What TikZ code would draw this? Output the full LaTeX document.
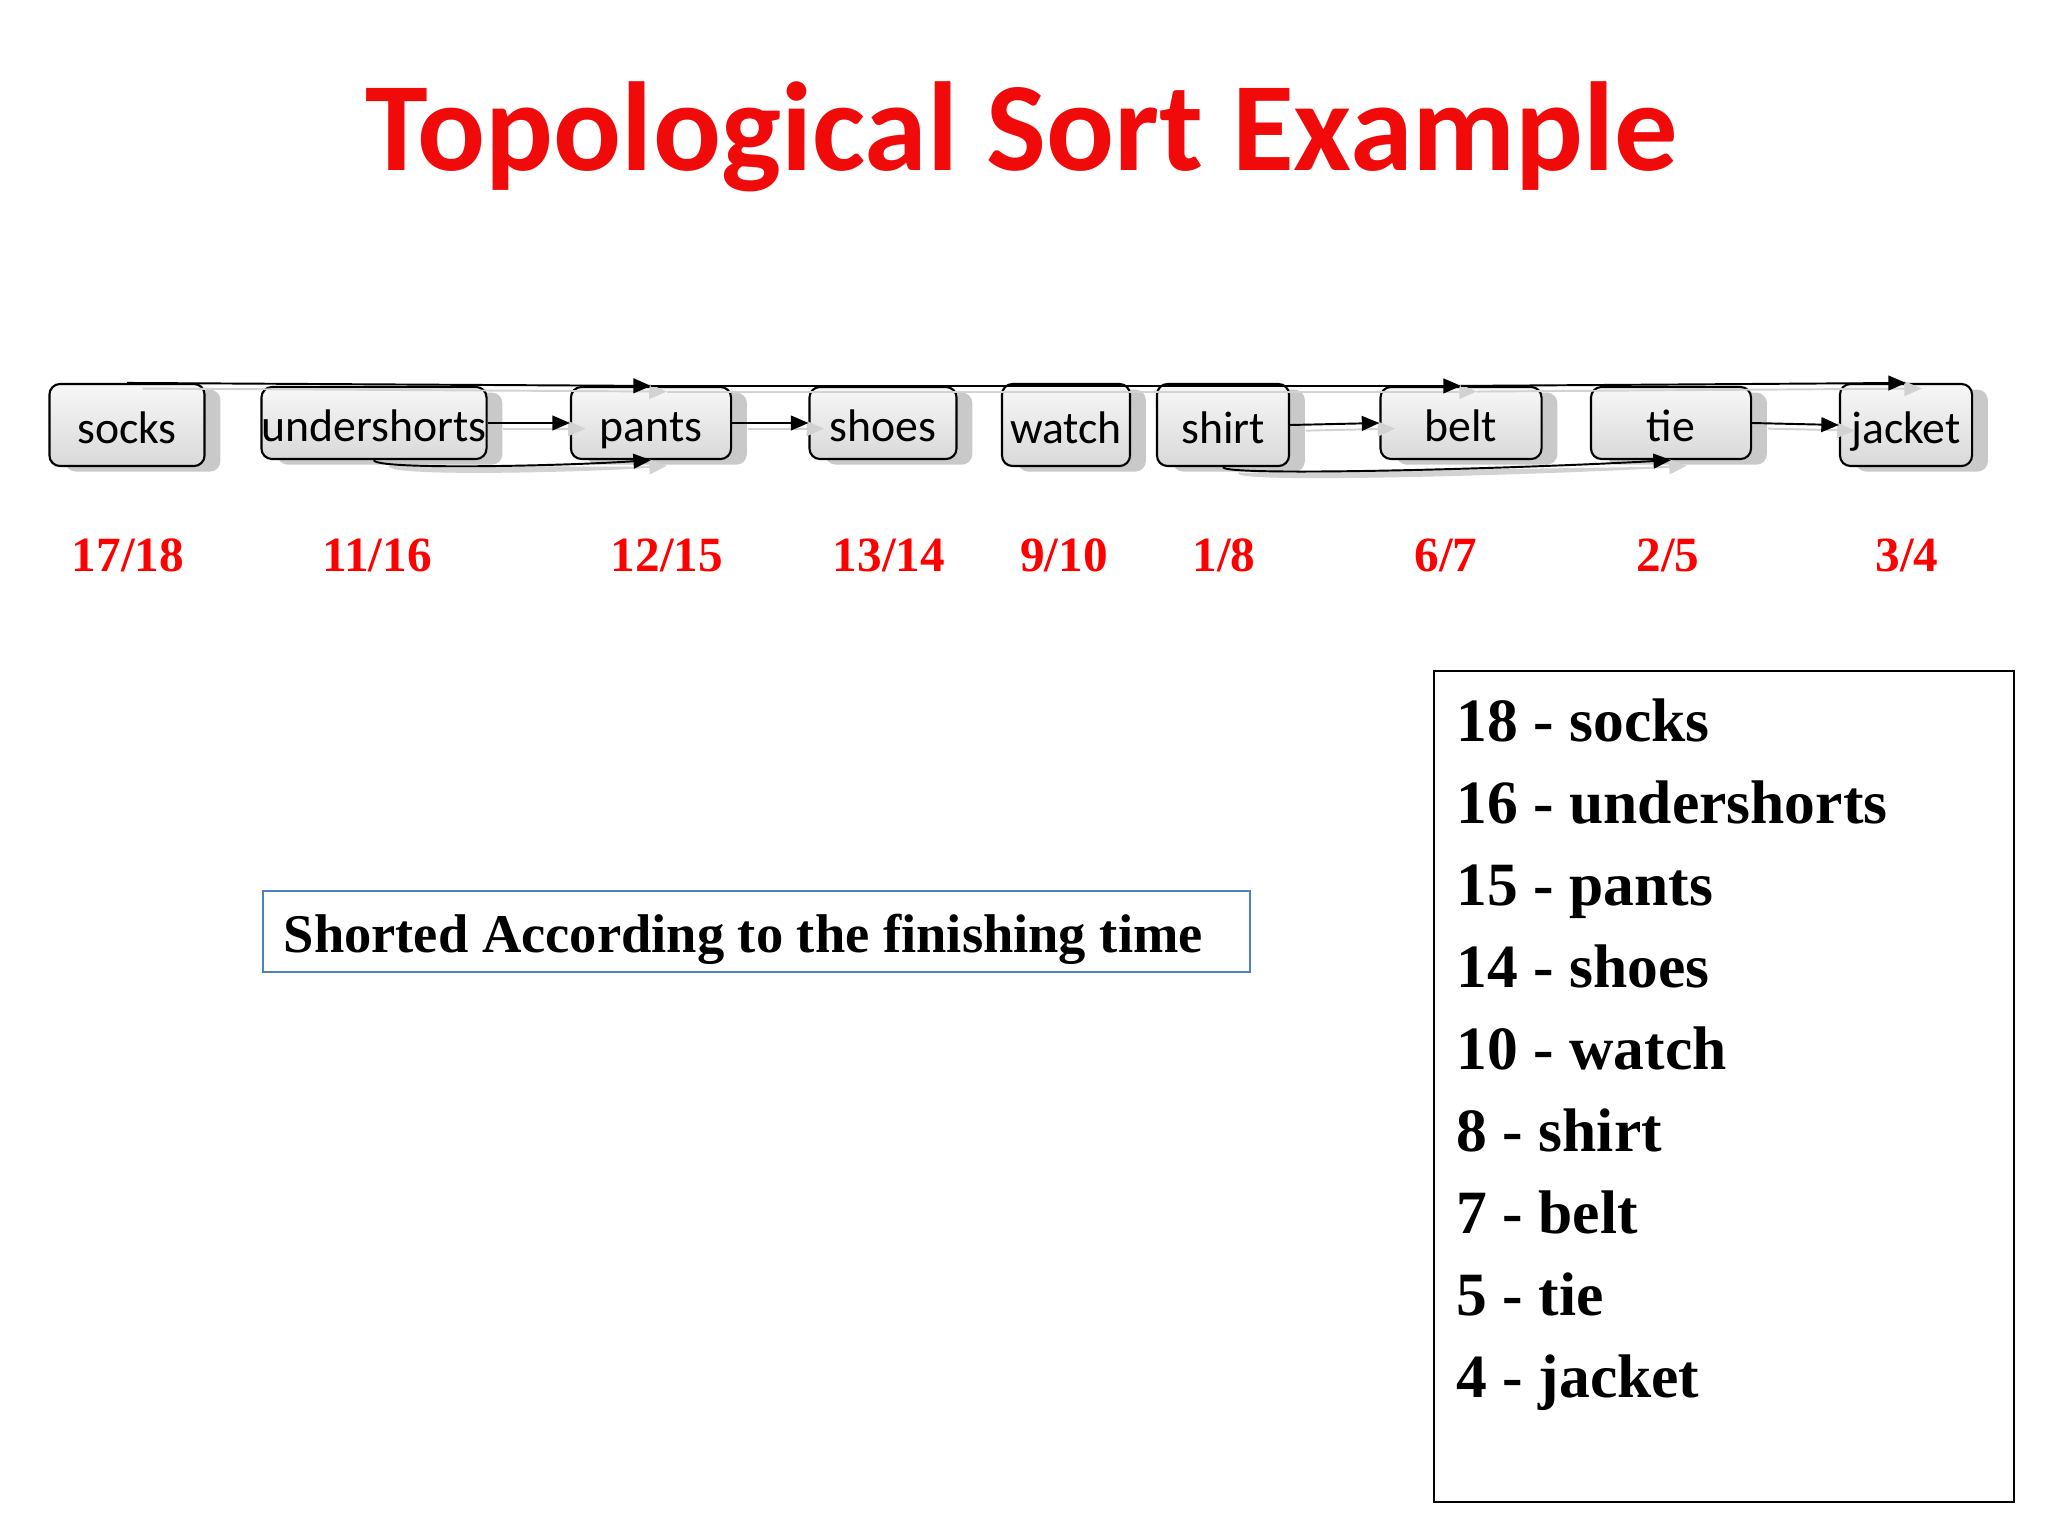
\documentclass[tikz,border=0pt]{standalone}
\usepackage{fontspec}
\setmainfont{Liberation Serif}
\newfontfamily\calib{Carlito}
\usetikzlibrary{arrows.meta,shadows}
\definecolor{titlered}{RGB}{240,10,10}
\definecolor{boxblue}{RGB}{79,129,189}
\begin{document}
\begin{tikzpicture}[x=0.01cm,y=-0.01cm,
  item/.style={draw=black, line width=0.6pt, rounded corners=3pt,
    top color=gray!6, bottom color=gray!30, inner sep=0pt,
    minimum height=0.72cm, text height=12pt, text depth=1.6pt,
    font=\calib\fontsize{13}{15}\selectfont,
    drop shadow={shadow xshift=4.5pt, shadow yshift=-1.6pt, fill=gray!70, opacity=0.6}},
  tall/.style={minimum height=0.82cm},
  time/.style={text=red, font=\bfseries\fontsize{14}{16}\selectfont},
  listitem/.style={anchor=base west, font=\bfseries\fontsize{17.5}{20}\selectfont, inner sep=0pt},
  conn/.style={-{Triangle[length=5pt,width=4.2pt]}, line width=0.55pt},
  shconn/.style={conn, draw=gray!35, fill=gray!35, transform canvas={shift={(4.5pt,-1.6pt)}}},
  blk/.style={conn, draw=black}
]
\useasboundingbox (0,0) rectangle (2048,1536);
\fill[white] (0,0) rectangle (2048,1536);

% title
\node[text=titlered, font=\calib\bfseries\fontsize{36}{40}\selectfont] (title) at (1022,137) {Topological Sort Example};

% nodes
\node[item, tall, minimum width=1.55cm] (socks) at (127,425) {socks};
\node[item, minimum width=2.22cm] (under) at (374,423) {undershorts};
\node[item, minimum width=1.60cm] (pants) at (651,423) {pants};
\node[item, minimum width=1.47cm] (shoes) at (883,423) {shoes};
\node[item, tall, minimum width=1.28cm] (watch) at (1066,425) {watch};
\node[item, tall, minimum width=1.32cm] (shirt) at (1223,425) {shirt};
\node[item, minimum width=1.61cm] (belt) at (1461,423) {belt};
\node[item, minimum width=1.60cm] (tie) at (1671,423) {tie};
\node[item, tall, minimum width=1.32cm] (jacket) at (1906,425) {jacket};

% connectors (shadow first, then black)
\foreach \s in {shconn,blk}{
  \draw[\s] (socks.north) -- (pants.north);
  \draw[\s] (pants.north) -- (belt.north);
  \draw[\s] (belt.north) -- (jacket.north);
  \draw[\s] (under.east) -- (pants.west);
  \draw[\s] (pants.east) -- (shoes.west);
  \draw[\s] (shirt.east) -- (belt.west);
  \draw[\s] (tie.east) -- (jacket.west);
  \draw[\s] (under.south) .. controls +(0,10) and +(-90,6) .. (pants.south);
  \draw[\s] (shirt.south) .. controls +(0,10) and +(-140,8) .. (tie.south);
}

% finishing times
\node[time] (t1) at (128,555) {17/18};
\node[time] (t2) at (377,555) {11/16};
\node[time] (t3) at (667,555) {12/15};
\node[time] (t4) at (889,555) {13/14};
\node[time] (t5) at (1064,555) {9/10};
\node[time] (t6) at (1224,555) {1/8};
\node[time] (t7) at (1446,555) {6/7};
\node[time] (t8) at (1668,555) {2/5};
\node[time] (t9) at (1907,555) {3/4};

% sorted note
\draw[boxblue, line width=0.8pt] (263,891) rectangle (1250,972);
\node[anchor=base west, inner sep=0pt, font=\bfseries\fontsize{15.5}{18}\selectfont] (note) at (283,952) {Shorted According to the finishing time};

% result list
\draw[black, line width=0.7pt] (1434,671) rectangle (2014,1502);
\node[listitem] (l1) at (1456,741) {18 - socks};
\node[listitem] (l2) at (1456,823) {16 - undershorts};
\node[listitem] (l3) at (1456,905) {15 - pants};
\node[listitem] (l4) at (1456,987) {14 - shoes};
\node[listitem] (l5) at (1456,1069) {10 - watch};
\node[listitem] (l6) at (1456,1151) {8 - shirt};
\node[listitem] (l7) at (1456,1233) {7 - belt};
\node[listitem] (l8) at (1456,1315) {5 - tie};
\node[listitem] (l9) at (1456,1397) {4 - jacket};
\end{tikzpicture}
\end{document}
